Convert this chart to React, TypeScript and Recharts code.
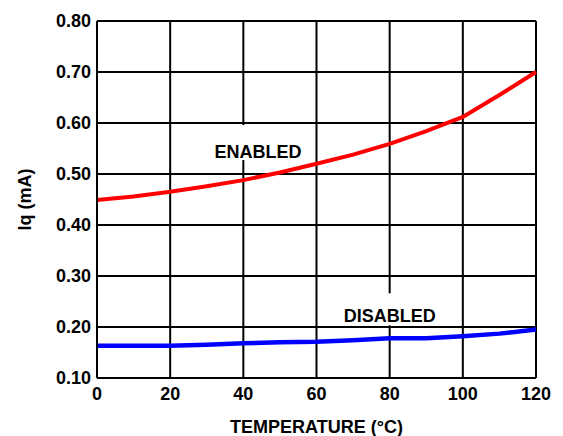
import { LineChart, Line, XAxis, YAxis, CartesianGrid, ReferenceDot, Label } from "recharts";

const temperatures = [0, 10, 20, 30, 40, 50, 60, 70, 80, 90, 100, 110, 120];
const enabledIq = [0.449, 0.456, 0.465, 0.476, 0.488, 0.503, 0.52, 0.538, 0.559, 0.584, 0.612, 0.655, 0.7];
const disabledIq = [0.163, 0.163, 0.163, 0.165, 0.168, 0.17, 0.171, 0.174, 0.178, 0.178, 0.182, 0.187, 0.195];

const xTicks = [0, 20, 40, 60, 80, 100, 120];
const yTicks = [0.1, 0.2, 0.3, 0.4, 0.5, 0.6, 0.7, 0.8];

const data = temperatures.map((t, i) => ({
  temp: t,
  enabled: enabledIq[i],
  disabled: disabledIq[i],
}));

const font = "'Liberation Sans', Arial, sans-serif";
const tickStyle = { fontFamily: font, fontSize: 18, fontWeight: "bold", fill: "#000" };

function NoteLabel(props: any, text: string, w: number, above: number, below: number) {
  const { cx, cy } = props;
  return (
    <g>
      <rect x={cx - w / 2} y={cy - above} width={w} height={above + below} fill="#fff" />
      <text
        x={cx}
        y={cy}
        textAnchor="middle"
        dominantBaseline="central"
        style={tickStyle}
      >
        {text}
      </text>
    </g>
  );
}

export default function App() {
  return (
    <div style={{ position: "absolute", left: 0, top: 0, background: "#fff" }}>
      <LineChart
        width={563}
        height={436}
        data={data}
        margin={{ top: 21, right: 27, bottom: 0, left: 0 }}
      >
        <CartesianGrid stroke="#000" strokeWidth={2} />
        <XAxis
          dataKey="temp"
          type="number"
          domain={[0, 120]}
          ticks={xTicks}
          height={58}
          stroke="#000"
          strokeWidth={2}
          tickLine={false}
          tickSize={6}
          tickMargin={3}
          tick={tickStyle}
        >
          <Label
            value="TEMPERATURE (°C)"
            position="insideBottom"
            offset={3}
            style={tickStyle}
          />
        </XAxis>
        <YAxis
          type="number"
          domain={[0.1, 0.8]}
          ticks={yTicks}
          width={97}
          stroke="#000"
          strokeWidth={2}
          tickLine={false}
          tickSize={6}
          tickMargin={0}
          tick={tickStyle}
          tickFormatter={(v: number) => v.toFixed(2)}
        >
          <Label
            content={(p: any) => {
              const vb = p.viewBox || {};
              const cy = vb.y + vb.height / 2;
              const cx = 25;
              return (
                <text
                  x={cx}
                  y={cy}
                  transform={`rotate(-90, ${cx}, ${cy})`}
                  textAnchor="middle"
                  dominantBaseline="central"
                  style={tickStyle}
                >
                  Iq (mA)
                </text>
              );
            }}
          />
        </YAxis>
        <ReferenceDot
          x={44}
          y={0.543}
          r={0}
          shape={(p: any) => NoteLabel(p, "ENABLED", 100, 27, 8)}
        />
        <ReferenceDot
          x={80}
          y={0.221}
          r={0}
          shape={(p: any) => NoteLabel(p, "DISABLED", 104, 23, 9)}
        />
        <Line
          dataKey="enabled"
          stroke="#ff0000"
          strokeWidth={4}
          dot={false}
          type="linear"
          isAnimationActive={false}
        />
        <Line
          dataKey="disabled"
          stroke="#0000ff"
          strokeWidth={4.5}
          dot={false}
          type="linear"
          isAnimationActive={false}
        />
      </LineChart>
    </div>
  );
}
